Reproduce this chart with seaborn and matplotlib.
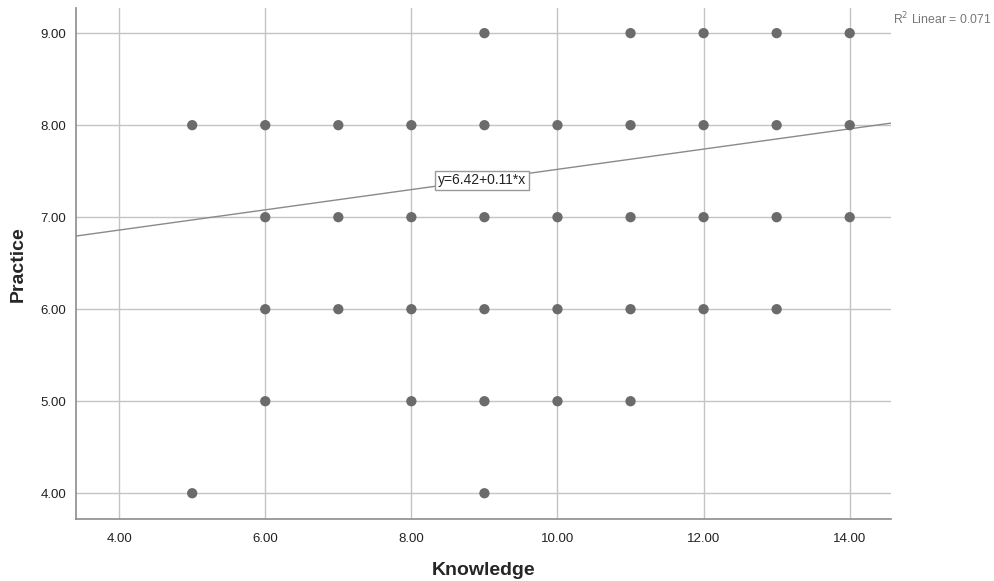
import matplotlib.pyplot as plt
import numpy as np
import pandas as pd
import seaborn as sns

sns.set_theme(style="white")
plt.rcParams["font.family"] = ["Liberation Sans", "DejaVu Sans"]

# observed (Knowledge, Practice) combinations
knowledge = [9, 11, 12, 13, 14,
             5, 6, 7, 8, 9, 10, 11, 12, 13, 14,
             6, 7, 8, 9, 10, 11, 12, 13, 14,
             6, 7, 8, 9, 10, 11, 12, 13,
             6, 8, 9, 10, 11,
             5, 9]
practice = [9] * 5 + [8] * 10 + [7] * 9 + [6] * 8 + [5] * 5 + [4] * 2

intercept = 6.42
slope = 0.11
r2 = 0.071

x_ticks = [4, 6, 8, 10, 12, 14]
y_ticks = [4, 5, 6, 7, 8, 9]

df = pd.DataFrame({"Knowledge": knowledge, "Practice": practice})

fig = plt.figure(figsize=(9.94, 5.81), dpi=100)
ax = fig.add_axes([0.0765, 0.1067, 0.8195, 0.879])

grid_c = "#c4c4c4"
for xv in x_ticks:
    ax.axvline(xv, color=grid_c, lw=1.0, zorder=0)
for yv in y_ticks:
    ax.axhline(yv, color=grid_c, lw=1.0, zorder=0)

sns.scatterplot(data=df, x="Knowledge", y="Practice", ax=ax, color="#6b6b6b",
                s=55, edgecolor="none", zorder=3, legend=False)

xlim = (3.41, 14.56)
ax.set_xlim(xlim)
ax.set_ylim(3.72, 9.27)
xs = np.array(xlim)
ax.plot(xs, intercept + slope * xs, color="#8a8a8a", lw=1.0, zorder=2)

ax.text(8.97, 7.40, f"y={intercept:.2f}+{slope:.2f}*x", fontsize=10, ha="center", va="center",
        color="#222222", zorder=5,
        bbox=dict(boxstyle="square,pad=0.2", fc="white", ec="#9a9a9a", lw=1.0))

fig.text(0.898, 0.967, f"R$^2$ Linear = {r2:.3f}", fontsize=8.8, color="#777777", ha="left", va="center")

ax.set_xticks(x_ticks)
ax.set_yticks(y_ticks)
ax.set_xticklabels([f"{v:.2f}" for v in x_ticks])
ax.set_yticklabels([f"{v:.2f}" for v in y_ticks])
ax.tick_params(axis="x", length=0, labelsize=9.5, colors="#222222", pad=10)
ax.tick_params(axis="y", length=0, labelsize=9.5, colors="#222222", pad=7)

ax.set_xlabel("Knowledge", fontsize=14, fontweight="bold", labelpad=12)
ax.set_ylabel("Practice", fontsize=14, fontweight="bold", labelpad=10)

for side in ["top", "right"]:
    ax.spines[side].set_visible(False)
for side in ["left", "bottom"]:
    ax.spines[side].set_color("#8c8c8c")
    ax.spines[side].set_linewidth(1.2)

fig.savefig("out.png", dpi=100)
plt.close(fig)
